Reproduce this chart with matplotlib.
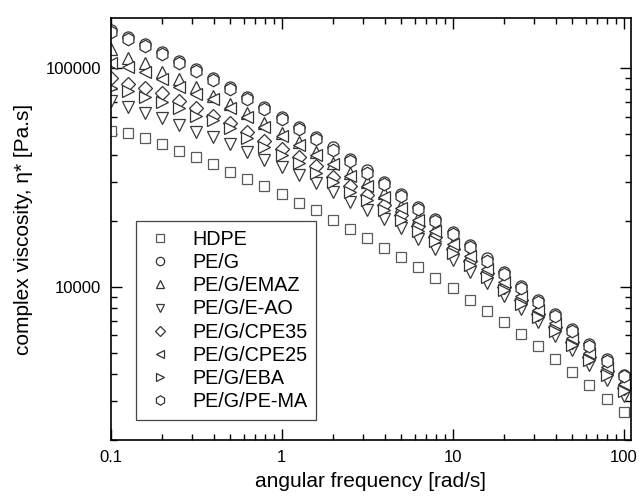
import matplotlib
matplotlib.use("Agg")
from matplotlib import pyplot as plt
from matplotlib import ticker

plt.rcParams["font.family"] = ["Liberation Sans", "DejaVu Sans"]

# angular frequency [rad/s], 10 points per decade
freq = [0.1, 0.1259, 0.1585, 0.1995, 0.2512, 0.3162, 0.3981, 0.5012, 0.631, 0.7943,
        1.0, 1.259, 1.585, 1.995, 2.512, 3.162, 3.981, 5.012, 6.31, 7.943,
        10.0, 12.59, 15.85, 19.95, 25.12, 31.62, 39.81, 50.12, 63.1, 79.43, 100.0]

hdpe = [51800, 50400, 48100, 45000, 41950, 39250, 36460, 33620, 31230, 28910,
        26580, 24240, 22450, 20300, 18400, 16660, 15100, 13640, 12270, 11000,
        9840, 8690, 7740, 6870, 6070, 5350, 4670, 4080, 3550, 3080, 2680]
pe_g = [149800, 138700, 129200, 118400, 108300, 99300, 90300, 82100, 74100, 66700,
        60000, 54000, 48500, 43500, 38400, 34100, 30100, 26600, 23200, 20400,
        17860, 15520, 13490, 11720, 10110, 8690, 7500, 6400, 5470, 4700, 3970]
emaz = [122200, 111800, 105400, 96500, 89300, 81900, 74700, 68400, 62200, 56000,
        50700, 46100, 41500, 37000, 33300, 30300, 26800, 23400, 20600, 18300,
        15900, 13970, 12140, 10540, 9160, 7960, 6910, 5900, 5130, 4380, 3740]
e_ao = [71100, 66300, 62600, 59000, 55000, 51250, 48300, 45000, 41500, 38000,
        35200, 32300, 29800, 27000, 24500, 22370, 20380, 18590, 16560, 14870,
        13290, 11670, 10360, 9090, 7940, 6890, 5950, 5130, 4380, 3760, 3180]
cpe35 = [90000, 84700, 81000, 76800, 71100, 65600, 60500, 56000, 51250, 46500,
         42600, 39400, 35500, 31900, 28900, 26190, 23630, 21310, 18980, 16870,
         14930, 13110, 11520, 10010, 8720, 7500, 6540, 5580, 4770, 4100, 3460]
cpe25 = [106000, 101700, 96500, 89000, 82400, 76300, 72100, 65600, 59700, 54000,
         49000, 44500, 40100, 36300, 32000, 28810, 25710, 22960, 20230, 17970,
         15740, 13830, 12020, 10550, 9100, 7820, 6830, 5820, 4980, 4280, 3610]
eba = [81000, 78700, 74100, 70300, 65600, 60500, 58000, 53100, 47800, 43800,
       40100, 37000, 33000, 30300, 27200, 24860, 22390, 20220, 18000, 16180,
       14310, 12570, 11030, 9690, 8360, 7260, 6270, 5410, 4620, 3970, 3350]
pe_ma = [146000, 135500, 126000, 115500, 105500, 96800, 88000, 80000, 72300, 65000,
         58500, 52700, 47300, 42400, 37500, 33300, 29400, 26000, 22700, 19900,
         17450, 15170, 13190, 11460, 9890, 8500, 7340, 6260, 5350, 4600, 3890]

labels = ["HDPE", "PE/G", "PE/G/EMAZ", "PE/G/E-AO", "PE/G/CPE35",
          "PE/G/CPE25", "PE/G/EBA", "PE/G/PE-MA"]
series = [hdpe, pe_g, emaz, e_ao, cpe35, cpe25, eba, pe_ma]
markers = ["s", "o", "^", "v", "D", "<", ">", "h"]
sizes = [7, 8, 8.5, 8.5, 7, 8.5, 8.5, 9]
edges = ["#5a5a5a", "#333333", "#333333", "#3a3a3a", "#333333", "#333333", "#333333", "#333333"]

fig = plt.figure(figsize=(6.39, 5.03), dpi=100)
ax = fig.add_axes([0.173, 0.125, 0.814, 0.8386])

for vals, lab, m, ms, ec in zip(series, labels, markers, sizes, edges):
    ax.plot(freq, vals, linestyle="none", marker=m, markersize=ms,
            markerfacecolor="white", markeredgecolor=ec, markeredgewidth=0.9,
            label=lab, clip_on=True)

ax.set_xscale("log")
ax.set_yscale("log")
ax.set_xlim(0.1, 110)
ax.set_ylim(1990, 169000)

ax.xaxis.set_major_locator(ticker.FixedLocator([0.1, 1, 10, 100]))
ax.xaxis.set_major_formatter(ticker.FixedFormatter(["0.1", "1", "10", "100"]))
ax.xaxis.set_minor_locator(ticker.LogLocator(base=10, subs=range(2, 10), numticks=20))
ax.yaxis.set_major_locator(ticker.FixedLocator([10000, 100000]))
ax.yaxis.set_major_formatter(ticker.FixedFormatter(["10000", "100000"]))
ax.yaxis.set_minor_locator(ticker.LogLocator(base=10, subs=range(2, 10), numticks=20))
ax.xaxis.set_minor_formatter(ticker.NullFormatter())
ax.yaxis.set_minor_formatter(ticker.NullFormatter())

ax.tick_params(which="both", direction="in", top=True, right=True, width=1.0)
ax.tick_params(which="major", length=8, labelsize=12, pad=7)
ax.tick_params(which="minor", length=4.5)
for sp in ax.spines.values():
    sp.set_linewidth(1.2)

ax.set_xlabel("angular frequency [rad/s]", fontsize=15, labelpad=5)
ax.set_ylabel("complex viscosity, η* [Pa.s]", fontsize=15, labelpad=9)

leg = ax.legend(loc="lower left", bbox_to_anchor=(0.049, 0.048), borderaxespad=0,
                fontsize=14.2, markerscale=0.75, labelspacing=0.21, handletextpad=0.9,
                handlelength=1.5, borderpad=0.45, frameon=True, fancybox=False,
                edgecolor="#444444", framealpha=1)
leg.get_frame().set_linewidth(0.9)

fig.savefig("out.png", dpi=100)
